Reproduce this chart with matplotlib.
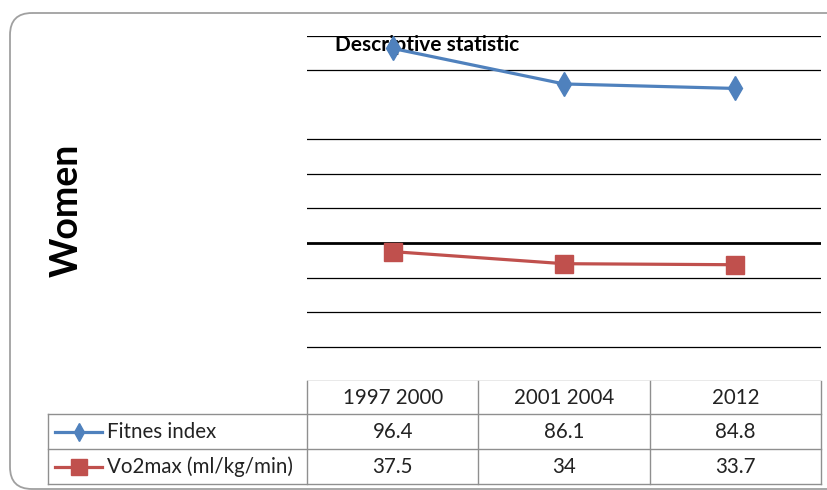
import matplotlib.pyplot as plt
from matplotlib.patches import FancyBboxPatch

periods = ["1997 2000", "2001 2004", "2012"]
fitnes_index = [96.4, 86.1, 84.8]
vo2max = [37.5, 34, 33.7]
series_names = ["Fitnes index", "Vo2max (ml/kg/min)"]
grid_values = [10, 20, 30, 40, 50, 60, 70, 90, 100]

plt.rcParams["font.family"] = ["Lato", "DejaVu Sans"]

blue = "#4F81BD"
red = "#C0504D"
edge = "#8f8f8f"
W, H = 827, 490

fig = plt.figure(figsize=(W / 100, H / 100), dpi=100)

# full-figure page axes in pixel units (frame, titles, data table)
page = fig.add_axes([0, 0, 1, 1])
page.set_xlim(0, W)
page.set_ylim(H, 0)
page.axis("off")
page.add_patch(FancyBboxPatch((10, 13), 850, 476,
                              boxstyle="round,pad=0,rounding_size=22",
                              fc="none", ec="#a0a0a0", lw=1.3))

# plot area
px0, px1, py0, py1 = 307, 821, 36, 381
ax = fig.add_axes([px0 / W, 1 - py1 / H, (px1 - px0) / W, (py1 - py0) / H])
ax.patch.set_alpha(0)
x = range(len(periods))
ax.set_xlim(-0.5, len(periods) - 0.5)
ax.set_ylim(0, 100)

for v in grid_values:
    ax.axhline(v, color="black", lw=2.0 if v == 40 else 0.9, zorder=1)
ax.axhline(0, color=edge, lw=1.0, zorder=1)

ax.plot(x, fitnes_index, color=blue, lw=2.3, marker="d", ms=12, zorder=3)
ax.plot(x, vo2max, color=red, lw=2.3, marker="s", ms=13, zorder=3)

ax.set_xticks([])
ax.set_yticks([])
for s in ax.spines.values():
    s.set_visible(False)

page.text(335, 45, "Descriptive statistic", fontsize=15, fontweight="bold",
          ha="left", va="center", zorder=5)
page.text(67, 210, "Women", rotation=90, fontsize=27, fontweight="bold",
          ha="center", va="center")

# data table under the plot
tx0 = 48
col_w = (px1 - px0) / len(periods)
row_top = [py1, 414, 449, 484]
col_edges = [px0 + i * col_w for i in range(len(periods) + 1)]
lw_t = 1.0
fs = 14.8
txt_col = "#222222"
# header row (no label cell)
for xe in col_edges:
    page.plot([xe, xe], [row_top[0], row_top[-1]], color=edge, lw=lw_t)
page.plot([tx0, tx0], [row_top[1], row_top[-1]], color=edge, lw=lw_t)
for yy in row_top[1:]:
    page.plot([tx0, px1], [yy, yy], color=edge, lw=lw_t)

for i, p in enumerate(periods):
    page.text(px0 + (i + 0.5) * col_w, (row_top[0] + row_top[1]) / 2, p,
              fontsize=fs, ha="center", va="center", color=txt_col)

rows = [fitnes_index, vo2max]
for r, (name, vals, col, mk, ms) in enumerate(zip(series_names, rows, [blue, red],
                                                  ["d", "s"], [9, 11])):
    yc = (row_top[r + 1] + row_top[r + 2]) / 2
    page.plot([55, 102], [yc, yc], color=col, lw=2.3)
    page.plot([78.5], [yc], color=col, marker=mk, ms=ms)
    page.text(107, yc, name, fontsize=fs, ha="left", va="center", color=txt_col)
    for i, v in enumerate(vals):
        page.text(px0 + (i + 0.5) * col_w, yc, f"{v:g}", fontsize=fs,
                  ha="center", va="center", color=txt_col)

fig.savefig("out.png", dpi=100)
